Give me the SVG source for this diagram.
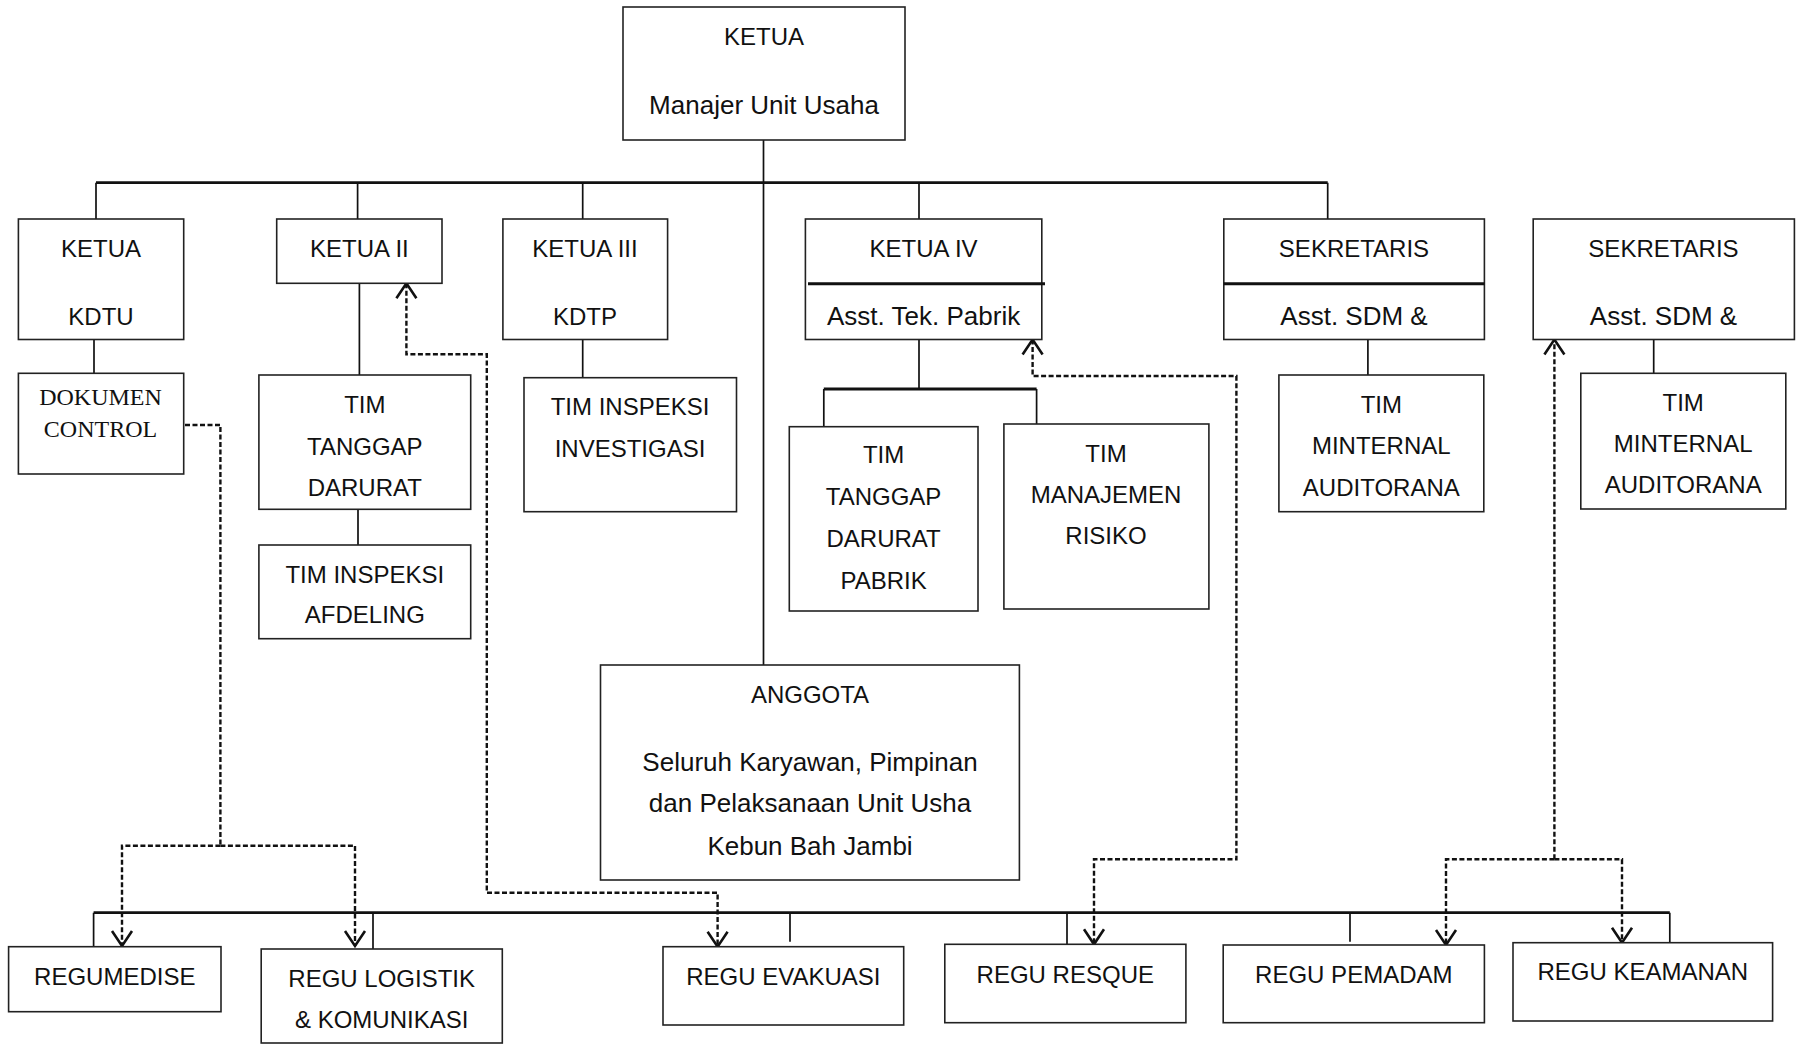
<svg xmlns="http://www.w3.org/2000/svg" width="1796" height="1045" viewBox="0 0 1796 1045">
<style>
.box{fill:#fff;stroke:#222;stroke-width:1.6}
.div{stroke:#111;stroke-width:3}
.ln{stroke:#111;stroke-width:1.7;fill:none}
.bus{stroke:#111;stroke-width:2.8;fill:none}
.dash{stroke:#111;stroke-width:2.4;fill:none;stroke-dasharray:5 2.5}
.t{font-family:"Liberation Sans",Arial,sans-serif;font-size:24px;fill:#111;text-anchor:middle}
.m{font-family:"Liberation Sans",Arial,sans-serif;font-size:26px;fill:#111;text-anchor:middle}
.s{font-family:"Liberation Serif","Times New Roman",serif;font-size:24px;fill:#111;text-anchor:middle}
</style>
<defs>
<marker id="ar" markerUnits="userSpaceOnUse" markerWidth="40" markerHeight="40" viewBox="-20 -20 40 40" refX="0" refY="0" orient="auto-start-reverse">
<path d="M-15,-10 L0,0 L-15,10" fill="none" stroke="#111" stroke-width="2.6"/>
</marker>
</defs>
<rect width="1796" height="1045" fill="#fff"/>
<g id="connectors">
<path class="ln" d="M763.5,140 V665"/>
<path class="bus" d="M96,182.7 H1327.7"/>
<path class="ln" d="M96,182.7 V219 M357.6,182.7 V219 M582.7,182.7 V219 M919,182.7 V219 M1327.7,182.7 V219"/>
<path class="ln" d="M94,339.5 V373.3"/>
<path class="ln" d="M359.4,283.3 V375 M358,509.3 V545"/>
<path class="ln" d="M582.7,339.5 V377.7"/>
<path class="ln" d="M919,339.5 V389"/>
<path class="bus" d="M823.8,389 H1036.6"/>
<path class="ln" d="M823.8,389 V426.7 M1036.6,389 V424"/>
<path class="ln" d="M1367.9,339.5 V375"/>
<path class="ln" d="M1653.7,339.5 V373.3"/>
<path class="bus" d="M93.6,912.7 H1669.8"/>
<path class="ln" d="M93.6,912.7 V948 M373,912.7 V949 M790,912.7 V941.7 M1067,912.7 V944.3 M1350,912.7 V941.7 M1669.8,912.7 V942.7"/>
<path class="dash" d="M185,425 H220.4 V845.7"/>
<path class="dash" d="M220.4,845.7 H122 V946" marker-end="url(#ar)"/>
<path class="dash" d="M220.4,845.7 H355 V946" marker-end="url(#ar)"/>
<path class="dash" d="M406.4,283.3 V354.3 H486.8 V892.7 H717.6 V946.7" marker-start="url(#ar)" marker-end="url(#ar)"/>
<path class="dash" d="M1032.6,339.5 V376 H1236.4 V859.3 H1094 V944.3" marker-start="url(#ar)" marker-end="url(#ar)"/>
<path class="dash" d="M1554.4,859.3 V339.5" marker-end="url(#ar)"/>
<path class="dash" d="M1554.4,859.3 H1446 V945" marker-end="url(#ar)"/>
<path class="dash" d="M1554.4,859.3 H1622 V942.7" marker-end="url(#ar)"/>
</g>
<g id="ketua-utama">
<rect class="box" x="623" y="7" width="282" height="133"/>
<text class="t" x="764" y="45.3">KETUA</text>
<text class="m" x="764" y="113.6">Manajer Unit Usaha</text>
</g>
<g id="ketua-kdtu">
<rect class="box" x="18.4" y="219" width="165.3" height="120.5"/>
<text class="t" x="101" y="256.6">KETUA</text>
<text class="t" x="101" y="324.6">KDTU</text>
</g>
<g id="ketua-ii">
<rect class="box" x="276.7" y="219" width="165.3" height="64.3"/>
<text class="t" x="359.4" y="256.6">KETUA II</text>
</g>
<g id="ketua-iii">
<rect class="box" x="502.9" y="219" width="164.7" height="120.5"/>
<text class="t" x="585" y="256.6">KETUA III</text>
<text class="t" x="585" y="324.6">KDTP</text>
</g>
<g id="ketua-iv">
<rect class="box" x="805.4" y="219" width="236.4" height="120.5"/>
<line class="div" x1="808" y1="283.7" x2="1045" y2="283.7"/>
<text class="t" x="923.6" y="256.6">KETUA IV</text>
<text class="m" x="923.6" y="325.3">Asst. Tek. Pabrik</text>
</g>
<g id="sekretaris-1">
<rect class="box" x="1223.8" y="219" width="260.6" height="120.5"/>
<line class="div" x1="1223.8" y1="283.7" x2="1484.4" y2="283.7"/>
<text class="t" x="1354" y="256.6">SEKRETARIS</text>
<text class="m" x="1354" y="325.3">Asst. SDM &amp;</text>
</g>
<g id="sekretaris-2">
<rect class="box" x="1533.2" y="219" width="261.2" height="120.5"/>
<text class="t" x="1663.5" y="256.6">SEKRETARIS</text>
<text class="m" x="1663.5" y="325.3">Asst. SDM &amp;</text>
</g>
<g id="dokumen-control">
<rect class="box" x="18.4" y="373.3" width="165.3" height="100.7"/>
<text class="s" x="100.5" y="405">DOKUMEN</text>
<text class="s" x="100.5" y="437.3">CONTROL</text>
</g>
<g id="tim-tanggap-darurat">
<rect class="box" x="258.9" y="375" width="211.8" height="134.3"/>
<text class="t" x="364.8" y="413.3">TIM</text>
<text class="t" x="364.8" y="454.7">TANGGAP</text>
<text class="t" x="364.8" y="496">DARURAT</text>
</g>
<g id="tim-inspeksi-afdeling">
<rect class="box" x="258.9" y="545" width="211.8" height="93.7"/>
<text class="t" x="364.8" y="583.3">TIM INSPEKSI</text>
<text class="t" x="364.8" y="623.3">AFDELING</text>
</g>
<g id="tim-inspeksi-investigasi">
<rect class="box" x="524" y="377.7" width="212.5" height="134"/>
<text class="t" x="630" y="415">TIM INSPEKSI</text>
<text class="t" x="630" y="457.3">INVESTIGASI</text>
</g>
<g id="tim-tanggap-darurat-pabrik">
<rect class="box" x="789.3" y="426.7" width="188.7" height="184.3"/>
<text class="t" x="883.6" y="463.3">TIM</text>
<text class="t" x="883.6" y="505">TANGGAP</text>
<text class="t" x="883.6" y="547.3">DARURAT</text>
<text class="t" x="883.6" y="589.3">PABRIK</text>
</g>
<g id="tim-manajemen-risiko">
<rect class="box" x="1003.9" y="424" width="205" height="185"/>
<text class="t" x="1106" y="462.3">TIM</text>
<text class="t" x="1106" y="503.3">MANAJEMEN</text>
<text class="t" x="1106" y="544.3">RISIKO</text>
</g>
<g id="tim-minternal-1">
<rect class="box" x="1278.9" y="375" width="204.9" height="136.7"/>
<text class="t" x="1381.3" y="412.7">TIM</text>
<text class="t" x="1381.3" y="454">MINTERNAL</text>
<text class="t" x="1381.3" y="496">AUDITORANA</text>
</g>
<g id="tim-minternal-2">
<rect class="box" x="1580.8" y="373.3" width="205" height="135.7"/>
<text class="t" x="1683.2" y="411">TIM</text>
<text class="t" x="1683.2" y="451.7">MINTERNAL</text>
<text class="t" x="1683.2" y="492.7">AUDITORANA</text>
</g>
<g id="anggota">
<rect class="box" x="600.5" y="665" width="418.9" height="215"/>
<text class="t" x="810" y="703.3">ANGGOTA</text>
<text class="m" x="810" y="770.7">Seluruh Karyawan, Pimpinan</text>
<text class="m" x="810" y="812.3">dan Pelaksanaan Unit Usha</text>
<text class="m" x="810" y="855">Kebun Bah Jambi</text>
</g>
<g id="regu-medise">
<rect class="box" x="8.6" y="946.7" width="212.4" height="65"/>
<text class="t" x="114.8" y="985">REGUMEDISE</text>
</g>
<g id="regu-logistik">
<rect class="box" x="261.2" y="949" width="241.1" height="94"/>
<text class="t" x="381.7" y="987.3">REGU LOGISTIK</text>
<text class="t" x="381.7" y="1028.3">&amp; KOMUNIKASI</text>
</g>
<g id="regu-evakuasi">
<rect class="box" x="663" y="946.7" width="240.7" height="78.3"/>
<text class="t" x="783.3" y="985">REGU EVAKUASI</text>
</g>
<g id="regu-resque">
<rect class="box" x="944.8" y="944.3" width="241.1" height="78.4"/>
<text class="t" x="1065.3" y="983.3">REGU RESQUE</text>
</g>
<g id="regu-pemadam">
<rect class="box" x="1223.2" y="945" width="261.2" height="77.7"/>
<text class="t" x="1353.8" y="983.3">REGU PEMADAM</text>
</g>
<g id="regu-keamanan">
<rect class="box" x="1513" y="942.7" width="259.6" height="78.3"/>
<text class="t" x="1642.8" y="980">REGU KEAMANAN</text>
</g>
</svg>
